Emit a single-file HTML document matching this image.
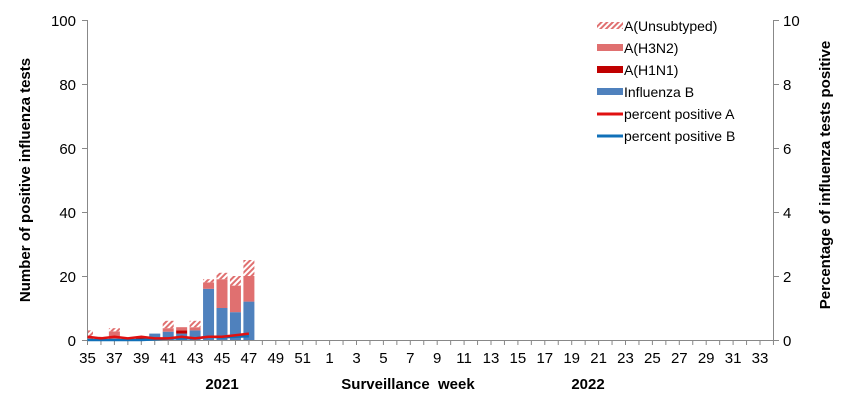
<!DOCTYPE html>
<html><head><meta charset="utf-8"><style>body{margin:0;background:#fff}svg{display:block}text{font-family:"Liberation Sans",Arial,sans-serif;fill:#000}</style></head>
<body>
<svg width="856" height="406" viewBox="0 0 856 406" xmlns="http://www.w3.org/2000/svg">
<defs><pattern id="h" width="4" height="4" patternUnits="userSpaceOnUse" patternTransform="rotate(45)"><rect width="4" height="4" fill="#fff"/><rect width="2" height="4" fill="#e07070"/></pattern></defs>
<g stroke="#888" stroke-width="1" fill="none">
<line x1="87.5" y1="20" x2="87.5" y2="340"/>
<line x1="773.5" y1="20" x2="773.5" y2="340"/>
<line x1="87" y1="340.5" x2="774" y2="340.5"/>
<path d="M82 20.5H87.5M82 84.5H87.5M82 148.5H87.5M82 212.5H87.5M82 276.5H87.5M82 340.5H87.5"/>
<path d="M773.5 20.5H779M773.5 84.5H779M773.5 148.5H779M773.5 212.5H779M773.5 276.5H779M773.5 340.5H779"/>
<path d="M87.5 340V345M100.95 340V345M114.4 340V345M127.85 340V345M141.3 340V345M154.75 340V345M168.2 340V345M181.65 340V345M195.1 340V345M208.55 340V345M222 340V345M235.45 340V345M248.9 340V345M262.35 340V345M275.8 340V345M289.25 340V345M302.7 340V345M316.15 340V345M329.6 340V345M343.05 340V345M356.5 340V345M369.95 340V345M383.4 340V345M396.85 340V345M410.3 340V345M423.75 340V345M437.2 340V345M450.65 340V345M464.1 340V345M477.55 340V345M491 340V345M504.45 340V345M517.9 340V345M531.35 340V345M544.8 340V345M558.25 340V345M571.7 340V345M585.15 340V345M598.6 340V345M612.05 340V345M625.5 340V345M638.95 340V345M652.4 340V345M665.85 340V345M679.3 340V345M692.75 340V345M706.2 340V345M719.65 340V345M733.1 340V345M746.55 340V345M760 340V345M773.45 340V345"/>
</g>
<g>
<rect x="88" y="336.8" width="5" height="3.2" fill="#e07070"/><rect x="88" y="330.4" width="5" height="6.4" fill="url(#h)"/>
<rect x="95.45" y="336.8" width="11" height="3.2" fill="url(#h)"/>
<rect x="108.9" y="331.36" width="11" height="8.64" fill="#e07070"/><rect x="108.9" y="328.16" width="11" height="3.2" fill="url(#h)"/>
<rect x="135.8" y="336.8" width="11" height="3.2" fill="#c00000"/>
<rect x="149.25" y="333.6" width="11" height="6.4" fill="#4f81bd"/>
<rect x="162.7" y="331.68" width="11" height="8.32" fill="#4f81bd"/><rect x="162.7" y="328.16" width="11" height="3.52" fill="#e07070"/><rect x="162.7" y="320.8" width="11" height="7.36" fill="url(#h)"/>
<rect x="176.15" y="333.6" width="11" height="6.4" fill="#4f81bd"/><rect x="176.15" y="330.4" width="11" height="3.2" fill="#c00000"/><rect x="176.15" y="327.2" width="11" height="3.2" fill="#e07070"/>
<rect x="189.6" y="330.4" width="11" height="9.6" fill="#4f81bd"/><rect x="189.6" y="327.2" width="11" height="3.2" fill="#e07070"/><rect x="189.6" y="320.8" width="11" height="6.4" fill="url(#h)"/>
<rect x="203.05" y="288.8" width="11" height="51.2" fill="#4f81bd"/><rect x="203.05" y="282.4" width="11" height="6.4" fill="#e07070"/><rect x="203.05" y="279.2" width="11" height="3.2" fill="url(#h)"/>
<rect x="216.5" y="308" width="11" height="32" fill="#4f81bd"/><rect x="216.5" y="279.2" width="11" height="28.8" fill="#e07070"/><rect x="216.5" y="272.8" width="11" height="6.4" fill="url(#h)"/>
<rect x="229.95" y="312.16" width="11" height="27.84" fill="#4f81bd"/><rect x="229.95" y="285.6" width="11" height="26.56" fill="#e07070"/><rect x="229.95" y="276" width="11" height="9.6" fill="url(#h)"/>
<rect x="243.4" y="301.6" width="11" height="38.4" fill="#4f81bd"/><rect x="243.4" y="276" width="11" height="25.6" fill="#e07070"/><rect x="243.4" y="260" width="11" height="16" fill="url(#h)"/>
<polyline fill="none" stroke="#1070b8" stroke-width="2.5" points="87.5,340 100.95,340 114.4,340 127.85,340 141.3,340 154.75,339.4 168.2,338.4 181.65,338.4 195.1,338.4 208.55,336.8 222,337.4 235.45,336.8 248.9,336.2"/>
<polyline fill="none" stroke="#e01010" stroke-width="2.5" points="87.5,336.8 100.95,338.4 114.4,336.8 127.85,338.4 141.3,336.8 154.75,338.4 168.2,338.4 181.65,336.8 195.1,338.4 208.55,336.8 222,336.8 235.45,335.2 248.9,333.6"/>
</g>
<g font-size="15" text-anchor="end">
<text x="76" y="26">100</text><text x="76" y="90">80</text><text x="76" y="154">60</text><text x="76" y="218">40</text><text x="76" y="282">20</text><text x="76" y="346">0</text>
</g>
<g font-size="15" text-anchor="start">
<text x="783" y="26">10</text><text x="783" y="90">8</text><text x="783" y="154">6</text><text x="783" y="218">4</text><text x="783" y="282">2</text><text x="783" y="346">0</text>
</g>
<g font-size="15" text-anchor="middle">
<text x="87.5" y="363">35</text><text x="114.4" y="363">37</text><text x="141.3" y="363">39</text><text x="168.2" y="363">41</text><text x="195.1" y="363">43</text><text x="222" y="363">45</text><text x="248.9" y="363">47</text><text x="275.8" y="363">49</text><text x="302.7" y="363">51</text><text x="329.6" y="363">1</text><text x="356.5" y="363">3</text><text x="383.4" y="363">5</text><text x="410.3" y="363">7</text><text x="437.2" y="363">9</text><text x="464.1" y="363">11</text><text x="491" y="363">13</text><text x="517.9" y="363">15</text><text x="544.8" y="363">17</text><text x="571.7" y="363">19</text><text x="598.6" y="363">21</text><text x="625.5" y="363">23</text><text x="652.4" y="363">25</text><text x="679.3" y="363">27</text><text x="706.2" y="363">29</text><text x="733.1" y="363">31</text><text x="760" y="363">33</text>
</g>
<text x="30" y="180" font-size="15" font-weight="bold" text-anchor="middle" transform="rotate(-90 30 180)">Number of positive influenza tests</text>
<text x="830" y="175" font-size="15" font-weight="bold" text-anchor="middle" transform="rotate(-90 830 175)">Percentage of influenza tests positive</text>
<g font-size="15" font-weight="bold" text-anchor="middle">
<text x="222" y="389">2021</text><text x="408" y="389">Surveillance&#160; week</text><text x="588" y="389">2022</text>
</g>
<g font-size="14">
<rect x="597" y="22" width="26" height="7" fill="url(#h)"/><text x="624" y="31">A(Unsubtyped)</text>
<rect x="597" y="44" width="26" height="7" fill="#e07070"/><text x="624" y="53">A(H3N2)</text>
<rect x="597" y="66" width="26" height="7" fill="#c00000"/><text x="624" y="75">A(H1N1)</text>
<rect x="597" y="88" width="26" height="7" fill="#4f81bd"/><text x="624" y="97">Influenza B</text>
<line x1="597" y1="114" x2="623" y2="114" stroke="#e01010" stroke-width="3"/><text x="624" y="119">percent positive A</text>
<line x1="597" y1="136" x2="623" y2="136" stroke="#1070b8" stroke-width="3"/><text x="624" y="141">percent positive B</text>
</g>
</svg>
</body></html>
